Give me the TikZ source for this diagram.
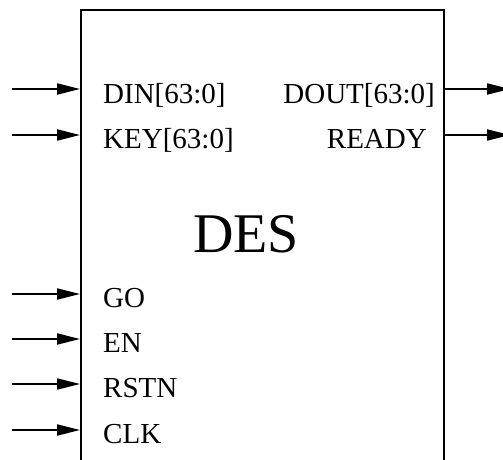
\documentclass[tikz,border=0pt]{standalone}
\usepackage{fontspec}
\setmainfont{Liberation Serif}
\usepackage{tikz}
\usetikzlibrary{positioning,arrows.meta}
\tikzstyle{arrow} = [line width=2pt,-{Triangle[length=23pt,width=11pt]}]
\tikzstyle{port} = [inner sep=0pt, font=\fontsize{29}{31}\selectfont]
\tikzstyle{block} = [draw, line width=2pt, minimum width=363pt, minimum height=600pt, anchor=north west, inner sep=0pt]

\begin{document}
\begin{tikzpicture}[x=1pt,y=-1pt]
            \useasboundingbox (0,0) rectangle (503,460);
            \clip (0,0) rectangle (503,460);
            \node (des) [block] at (80,9) {};
            \node (des_name) [inner sep=0pt, anchor=base, font=\fontsize{56}{60}\selectfont] at (246,252) {DES};

            \node (din) [port, anchor=base west] at (103,103) {DIN[63:0]};
            \node (key) [port, anchor=base west] at (103,148) {KEY[63:0]};
            \node (go) [port, anchor=base west] at (103,307) {GO};
            \node (en) [port, anchor=base west] at (103,352) {EN};
            \node (rstn) [port, anchor=base west] at (103,397) {RSTN};
            \node (clk) [port, anchor=base west] at (103,443) {CLK};
            \node (dout) [port, anchor=base east] at (435,103) {DOUT[63:0]};
            \node (ready) [port, anchor=base east] at (427,148) {READY};

            \coordinate (din_in) at (12,89);
            \coordinate (key_in) at (12,135);
            \coordinate (go_in) at (12,294);
            \coordinate (en_in) at (12,339);
            \coordinate (rstn_in) at (12,384);
            \coordinate (clk_in) at (12,430);
            \coordinate (dout_out) at (510,89);
            \coordinate (ready_out) at (510,135);

            \draw [arrow] (din_in) -- (din_in -| des.west);
            \draw [arrow] (key_in) -- (key_in -| des.west);
            \draw [arrow] (go_in) -- (go_in -| des.west);
            \draw [arrow] (en_in) -- (en_in -| des.west);
            \draw [arrow] (rstn_in) -- (rstn_in -| des.west);
            \draw [arrow] (clk_in) -- (clk_in -| des.west);
            \draw [arrow] (dout_out -| des.east) -- (dout_out);
            \draw [arrow] (ready_out -| des.east) -- (ready_out);
        \end{tikzpicture}
\end{document}
